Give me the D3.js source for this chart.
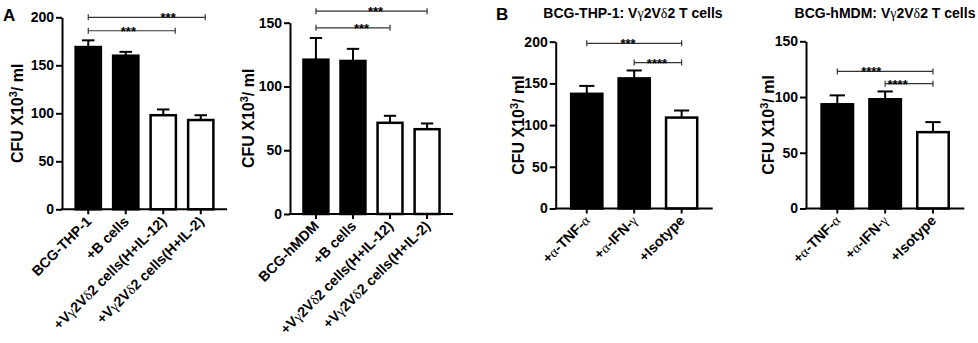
<!DOCTYPE html>
<html>
<head>
<meta charset="utf-8">
<script src="https://cdn.jsdelivr.net/npm/d3@7"></script>
<style>
body { margin: 0; background: #fff; }
svg text { font-family: "Liberation Sans", Arial, sans-serif; font-weight: bold; fill: #000; }
.greek { font-family: "Liberation Serif", "DejaVu Serif", serif; font-weight: normal; }
</style>
</head>
<body>
<script>
//categories
var catsThpA = ["BCG-THP-1", "+B cells", "+Vγ2Vδ2 cells(H+IL-12)", "+Vγ2Vδ2 cells(H+IL-2)"];
var catsMdmA = ["BCG-hMDM", "+B cells", "+Vγ2Vδ2 cells(H+IL-12)", "+Vγ2Vδ2 cells(H+IL-2)"];
var catsB = ["+α-TNF-α", "+α-IFN-γ", "+Isotype"];

//which bars are open (T cell / isotype) vs filled
var groupA = ["ctrl", "ctrl", "open", "open"];
var groupB = ["ctrl", "ctrl", "open"];

//mean CFU x10^3/ml and SEM
var thpA = [169, 160, 98, 93];
var thpAErr = [7, 4, 6, 5];
var mdmA = [121, 120, 71.5, 66.5];
var mdmAErr = [17, 9.5, 5.5, 4.5];
var thpB = [137.5, 156, 109];
var thpBErr = [9.5, 9.5, 8.5];
var mdmB = [93.5, 98, 68.5];
var mdmBErr = [8, 7, 9];

//y ticks
var ticks200 = [0, 50, 100, 150, 200];
var ticks150 = [0, 50, 100, 150];

//significance brackets: between categories a and b, at value y
var sigThpA = [{a: 0, b: 3, y: 200, mark: "***"}, {a: 0, b: 2, y: 186, mark: "***"}];
var sigMdmA = [{a: 0, b: 3, y: 159, mark: "***"}, {a: 0, b: 2, y: 146, mark: "***"}];
var sigThpB = [{a: 0, b: 2, y: 198, mark: "***"}, {a: 1, b: 2, y: 175, mark: "****"}];
var sigMdmB = [{a: 0, b: 2, y: 123, mark: "****"}, {a: 1, b: 2, y: 112, mark: "****"}];

var width = 978, height = 343;

var svg = d3.select("body")
    .append("svg")
    .attr("width", width)
    .attr("height", height);

//write a string, putting greek letters in a serif face
function richText(sel, str){
    var parts = str.split(/([α-ω])/);
    parts.forEach(function(p){
        if (!p) return;
        var t = sel.append("tspan").text(p);
        if (/[α-ω]/.test(p)) t.attr("class", "greek");
    });
}

function drawChart(cfg){
    var g = svg.append("g");

    var x = d3.scaleBand()
        .domain(cfg.cats)
        .range([cfg.x0, cfg.x1])
        .paddingInner(cfg.padIn)
        .paddingOuter(cfg.padOut);

    var y = d3.scaleLinear()
        .domain([0, cfg.max])
        .range([cfg.yBase, cfg.yTop]);

    var step = x.step();
    var cx = function(i){ return x(cfg.cats[0]) + x.bandwidth() / 2 + i * step; };

    //bars
    var bw = x.bandwidth();
    g.selectAll(".bar")
        .data(cfg.values)
        .enter()
        .append("rect")
        .attr("x", function(d, i){ return x(cfg.cats[i]) + 1.25; })
        .attr("y", function(d){ return y(d); })
        .attr("width", bw - 2.5)
        .attr("height", function(d){ return cfg.yBase - y(d); })
        .attr("fill", function(d, i){ return cfg.groups[i] == "open" ? "#fff" : "#000"; })
        .attr("stroke", "#000")
        .attr("stroke-width", 2.5);

    //error bars (upper only)
    var capW = bw * 0.45;
    cfg.values.forEach(function(v, i){
        var top = y(v + cfg.errs[i]);
        g.append("line")
            .attr("x1", cx(i)).attr("x2", cx(i))
            .attr("y1", y(v)).attr("y2", top)
            .attr("stroke", "#000").attr("stroke-width", 2);
        g.append("line")
            .attr("x1", cx(i) - capW / 2).attr("x2", cx(i) + capW / 2)
            .attr("y1", top).attr("y2", top)
            .attr("stroke", "#000").attr("stroke-width", 2);
    });

    //y axis
    var yAxis = g.append("g")
        .attr("transform", "translate(" + cfg.x0 + ",0)")
        .call(d3.axisLeft(y).tickValues(cfg.ticks).tickSize(6).tickSizeOuter(0).tickPadding(2));
    yAxis.select(".domain").attr("stroke-width", 2);
    yAxis.selectAll(".tick line").attr("stroke-width", 2);
    yAxis.selectAll(".tick text")
        .style("font-size", "14px")
        .style("font-family", "'Liberation Sans', Arial, sans-serif")
        .style("font-weight", "bold");

    //x axis
    g.append("line")
        .attr("x1", cfg.x0 - 1).attr("x2", cfg.x1)
        .attr("y1", cfg.yBase).attr("y2", cfg.yBase)
        .attr("stroke", "#000").attr("stroke-width", 2);
    cfg.cats.forEach(function(c, i){
        g.append("line")
            .attr("x1", cx(i)).attr("x2", cx(i))
            .attr("y1", cfg.yBase).attr("y2", cfg.yBase + 5)
            .attr("stroke", "#000").attr("stroke-width", 2);
        var t = g.append("text")
            .attr("text-anchor", "end")
            .attr("transform", "translate(" + (cx(i) + 4) + "," + (cfg.yBase + 13) + ") rotate(-45)")
            .style("font-size", "14.2px");
        richText(t, c);
    });

    //y axis title
    var midY = (cfg.yBase + cfg.yTop) / 2;
    var lab = g.append("text")
        .attr("text-anchor", "middle")
        .attr("transform", "translate(" + cfg.labelX + "," + midY + ") rotate(-90)")
        .attr("dy", "0.35em")
        .style("font-size", "16px");
    lab.append("tspan").text("CFU X10");
    lab.append("tspan").text("3").attr("dy", -6).style("font-size", "11px");
    lab.append("tspan").text("/ ml").attr("dy", 6);

    //significance brackets
    cfg.sig.forEach(function(s, k){
        var nudge = cfg.nudge[k];
        var xa = cx(s.a), xb = cx(s.b + nudge[0]);
        var yy = y(s.y);
        g.append("line")
            .attr("x1", xa).attr("x2", xb)
            .attr("y1", yy).attr("y2", yy)
            .attr("stroke", "#333").attr("stroke-width", 1.2);
        [xa, xb].forEach(function(xe){
            g.append("line")
                .attr("x1", xe).attr("x2", xe)
                .attr("y1", yy - 3).attr("y2", yy + 3)
                .attr("stroke", "#333").attr("stroke-width", 1.2);
        });
        g.append("text")
            .attr("x", cx(nudge[1]))
            .attr("y", yy + 5)
            .attr("text-anchor", "middle")
            .style("font-size", "13px")
            .text(s.mark);
    });
}

drawChart({cats: catsThpA, values: thpA, errs: thpAErr, groups: groupA, ticks: ticks200, sig: sigThpA,
    x0: 62, x1: 227, yBase: 209.3, yTop: 17.3, max: 200, padIn: 0.26, padOut: 0.33, labelX: 17,
    nudge: [[0.12, 2.13], [0.32, 1.07]]});
drawChart({cats: catsMdmA, values: mdmA, errs: mdmAErr, groups: groupA, ticks: ticks150, sig: sigMdmA,
    x0: 290, x1: 453, yBase: 214, yTop: 22.7, max: 150, padIn: 0.26, padOut: 0.33, labelX: 248,
    nudge: [[0, 1.61], [0, 1.23]]});
drawChart({cats: catsB, values: thpB, errs: thpBErr, groups: groupB, ticks: ticks200, sig: sigThpB,
    x0: 555.7, x1: 712.7, yBase: 208.5, yTop: 41.7, max: 200, padIn: 0.29, padOut: 0.30, labelX: 518,
    nudge: [[0, 0.87], [0, 1.48]]});
drawChart({cats: catsB, values: mdmB, errs: mdmBErr, groups: groupB, ticks: ticks150, sig: sigMdmB,
    x0: 806, x1: 964.3, yBase: 208.5, yTop: 41.3, max: 150, padIn: 0.29, padOut: 0.30, labelX: 768,
    nudge: [[0, 0.71], [0, 1.26]]});

//panel letters and titles
svg.append("text").attr("x", 3).attr("y", 21).style("font-size", "17px").text("A");
svg.append("text").attr("x", 496).attr("y", 20).style("font-size", "17px").text("B");
richText(svg.append("text").attr("x", 633).attr("y", 18).attr("text-anchor", "middle").style("font-size", "14px"),
    "BCG-THP-1: Vγ2Vδ2 T cells");
richText(svg.append("text").attr("x", 885).attr("y", 18).attr("text-anchor", "middle").style("font-size", "14px"),
    "BCG-hMDM: Vγ2Vδ2 T cells");
</script>
</body>
</html>
